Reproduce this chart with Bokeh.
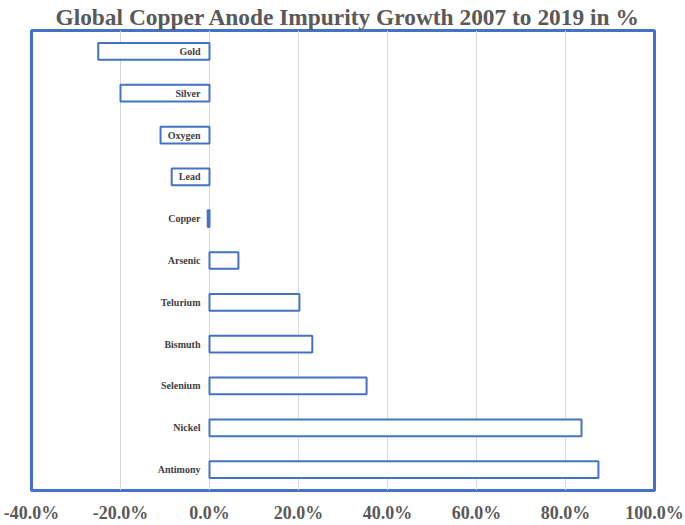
from bokeh.plotting import figure
from bokeh.models import FactorRange, Range1d, FixedTicker, NumeralTickFormatter, ColumnDataSource
from bokeh.core.properties import value
from bokeh.embed import file_html
from bokeh.resources import INLINE

# Data
cats = ["Gold", "Silver", "Oxygen", "Lead", "Copper", "Arsenic",
        "Telurium", "Bismuth", "Selenium", "Nickel", "Antimony"]
growth = [-0.25, -0.20, -0.11, -0.085, -0.004, 0.065,
          0.202, 0.231, 0.353, 0.836, 0.874]
x_ticks = [-0.4, -0.2, 0.0, 0.2, 0.4, 0.6, 0.8, 1.0]
title_text = "Global Copper Anode Impurity Growth 2007 to 2019 in %"

BLUE = "#4472C4"
SERIF = "Liberation Serif"

src = ColumnDataSource(dict(cat=cats, val=growth, base=[0.0] * len(cats)))

p = figure(width=685, height=525, output_backend="svg", toolbar_location=None,
           title=title_text,
           y_range=FactorRange(factors=list(reversed(cats))),
           x_range=Range1d(x_ticks[0], x_ticks[-1]),
           min_border_left=31, min_border_right=31,
           min_border_top=30, min_border_bottom=34)

p.title.text_font = SERIF
p.title.text_font_style = "bold"
p.title.text_font_size = "23.4px"
p.title.text_color = "#595959"
p.title.align = "right"
p.title.offset = 14
p.title.standoff = 2

p.hbar(y="cat", left="base", right="val", height=0.4, source=src,
       fill_color="white", line_color=BLUE, line_width=2)

p.text(x="base", y="cat", text="cat", source=src, x_offset=-9,
       text_align="right", text_baseline="middle",
       text_font=value(SERIF), text_font_style="bold",
       text_font_size="10px", text_color="#404040")

p.yaxis.visible = False
p.xaxis.ticker = FixedTicker(ticks=x_ticks)
p.xaxis.formatter = NumeralTickFormatter(format="0.0%")
p.xaxis.axis_line_color = None
p.xaxis.major_tick_line_color = None
p.xaxis.minor_tick_line_color = None
p.xaxis.major_label_text_font = SERIF
p.xaxis.major_label_text_font_style = "bold"
p.xaxis.major_label_text_font_size = "18px"
p.xaxis.major_label_text_color = "#595959"
p.xaxis.major_label_standoff = 6

p.xgrid.ticker = FixedTicker(ticks=x_ticks)
p.xgrid.grid_line_color = "#d9d9d9"
p.xgrid.grid_line_width = 1
p.ygrid.grid_line_color = None

p.outline_line_color = BLUE
p.outline_line_width = 3
p.outline_line_alpha = 1.0
p.background_fill_color = "white"
p.border_fill_color = "white"

open("out.html", "w").write(file_html(p, INLINE))
